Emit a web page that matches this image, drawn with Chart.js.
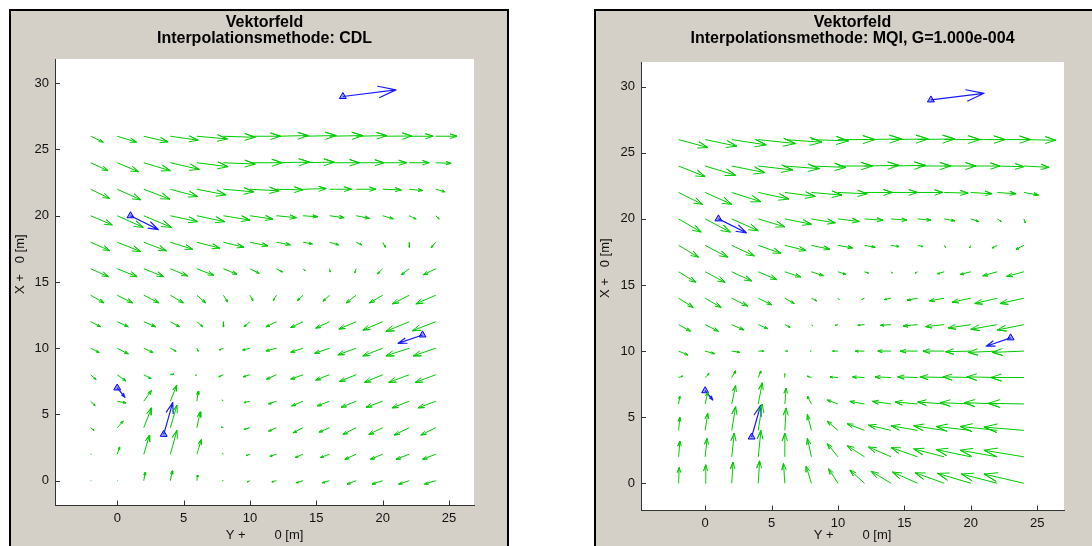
<!DOCTYPE html>
<html>
<head>
<meta charset="utf-8">
<title>Vektorfeld</title>
<script src="https://cdn.jsdelivr.net/npm/chart.js@4.4.0/dist/chart.umd.min.js"></script>
<style>
  html, body { margin: 0; padding: 0; width: 1092px; height: 546px; overflow: hidden; background: #fff; }
  .panel { position: absolute; background: #d4d0c8; border: 2px solid #000; border-bottom: none; }
  #panelL { left: 9px; top: 9px; width: 496px; height: 560px; }
  #panelR { left: 594px; top: 9px; width: 540px; height: 560px; }
  canvas { position: absolute; left: 0; top: 0; }
</style>
</head>
<body>
<div class="panel" id="panelL"><canvas id="chartL" width="496" height="535"></canvas></div>
<div class="panel" id="panelR"><canvas id="chartR" width="496" height="535"></canvas></div>
<script>
// grid of the vector field (columns = Y, rows = X)
const gridX = [-2, 0, 2, 4, 6, 8, 10, 12, 14, 16, 18, 20, 22, 24];
const gridY = [0, 2, 4, 6, 8, 10, 12, 14, 16, 18, 20, 22, 24, 26];

const xTicks = [0, 5, 10, 15, 20, 25];
const yTicks = [0, 5, 10, 15, 20, 25, 30];

// CDL interpolation, one row per gridY value
const cdlU = [
    [0.03, 0.05, 0.1, 0.15, 0.05, -0.08, -0.2, -0.35, -0.5, -0.55, -0.68, -0.8, -0.8, -0.85],
    [0.05, 0.18, 0.43, 0.5, 0.33, -0.08, -0.3, -0.5, -0.6, -0.7, -0.85, -0.93, -1.0, -1.0],
    [0.25, 0.45, 0.58, 0.5, 0.25, -0.15, -0.45, -0.6, -0.75, -0.8, -1.0, -1.05, -1.13, -1.13],
    [0.33, 0.65, 0.58, 0.48, 0.1, -0.1, -0.45, -0.6, -0.85, -0.93, -1.13, -1.25, -1.3, -1.33],
    [0.4, 0.65, 0.55, 0.28, -0.1, -0.35, -0.5, -0.75, -0.93, -1.05, -1.25, -1.38, -1.55, -1.55],
    [0.63, 0.83, 0.7, 0.43, 0.1, -0.3, -0.55, -0.8, -0.93, -1.13, -1.38, -1.5, -1.76, -1.7],
    [0.75, 0.83, 0.88, 0.68, 0.43, 0, -0.45, -0.8, -0.93, -1.05, -1.3, -1.5, -1.76, -1.76],
    [1.0, 1.15, 1.15, 0.98, 0.65, 0.3, 0.22, -0.25, -0.43, -0.5, -0.75, -1.0, -1.26, -1.5],
    [1.33, 1.5, 1.5, 1.3, 1.28, 1.03, 0.7, 0.45, 0.15, 0.05, -0.1, -0.4, -0.6, -0.93],
    [1.43, 1.76, 1.7, 1.68, 1.73, 1.55, 1.36, 1.04, 0.7, 0.68, 0.43, 0.2, 0, -0.35],
    [1.63, 1.96, 2.08, 2.06, 2.1, 2.0, 1.73, 1.5, 1.1, 1.1, 1.0, 0.8, 0.52, 0.25],
    [1.43, 1.78, 1.96, 2.06, 2.2, 2.3, 2.2, 2.0, 1.75, 1.65, 1.5, 1.4, 1.0, 0.7],
    [1.3, 1.6, 2.0, 2.18, 2.35, 2.4, 2.45, 2.5, 2.35, 2.25, 2.1, 1.8, 1.5, 1.15],
    [0.95, 1.45, 1.83, 2.1, 2.3, 2.4, 2.3, 2.4, 2.5, 2.5, 2.3, 2.2, 1.8, 1.6]
];
const cdlV = [
    [0, 0, 0.63, 0.75, 0.43, 0, -0.08, -0.08, -0.15, -0.15, -0.25, -0.25, -0.25, -0.25],
    [0, 0.55, 1.45, 1.8, 1.1, 0.05, -0.1, -0.15, -0.25, -0.25, -0.38, -0.38, -0.38, -0.38],
    [-0.2, 0.5, 1.5, 1.7, 1.2, 0.05, -0.13, -0.25, -0.38, -0.33, -0.5, -0.5, -0.55, -0.55],
    [-0.33, -0.13, 0.8, 1.2, 0.75, 0.1, -0.1, -0.2, -0.35, -0.35, -0.45, -0.45, -0.5, -0.5],
    [-0.37, -0.48, -0.3, 0.05, -0.05, -0.15, -0.15, -0.33, -0.33, -0.4, -0.5, -0.58, -0.58, -0.58],
    [-0.33, -0.43, -0.33, -0.23, -0.23, -0.12, -0.13, -0.2, -0.3, -0.38, -0.5, -0.58, -0.58, -0.58],
    [-0.38, -0.38, -0.38, -0.38, -0.38, -0.4, -0.38, -0.38, -0.43, -0.48, -0.55, -0.63, -0.73, -0.68],
    [-0.58, -0.58, -0.58, -0.58, -0.58, -0.5, -0.4, -0.4, -0.4, -0.45, -0.58, -0.58, -0.65, -0.65],
    [-0.6, -0.6, -0.6, -0.55, -0.5, -0.43, -0.35, -0.25, -0.15, -0.25, -0.3, -0.38, -0.45, -0.45],
    [-0.63, -0.7, -0.65, -0.53, -0.45, -0.38, -0.28, -0.2, -0.13, -0.2, -0.2, -0.38, -0.4, -0.4],
    [-0.7, -0.88, -0.88, -0.45, -0.45, -0.33, -0.25, -0.15, -0.08, -0.15, -0.2, -0.23, -0.25, -0.25],
    [-0.7, -0.8, -0.75, -0.55, -0.43, -0.2, -0.12, -0.05, 0.05, 0, 0, -0.05, -0.1, -0.2],
    [-0.6, -0.68, -0.6, -0.5, -0.3, -0.1, 0, 0.05, 0.05, 0, 0, 0, 0, -0.05],
    [-0.45, -0.45, -0.43, -0.3, -0.2, -0.08, 0, 0.05, 0.05, 0.05, 0.05, 0.02, 0, 0]
];

// MQI interpolation, G=1.000e-004
const mqiU = [
    [0.05, 0.05, 0.1, 0.1, -0.1, -0.4, -0.7, -1.1, -1.5, -1.9, -2.2, -2.5, -2.7, -3.0],
    [0.1, 0.15, 0.2, 0.2, 0, -0.3, -0.8, -1.3, -1.7, -2.0, -2.3, -2.6, -2.8, -3.0],
    [0.1, 0.2, 0.3, 0.3, 0.1, -0.3, -0.8, -1.3, -1.7, -2.0, -2.3, -2.6, -2.8, -3.0],
    [0.1, 0.2, 0.3, 0.3, 0.1, -0.3, -0.8, -1.1, -1.4, -1.7, -2.0, -2.3, -2.5, -2.7],
    [0.3, 0.3, 0.3, 0.2, 0, -0.3, -0.6, -0.9, -1.2, -1.5, -1.8, -2.1, -2.3, -2.5],
    [0.7, 0.7, 0.6, 0.4, 0.2, -0.1, -0.4, -0.7, -1.0, -1.3, -1.6, -1.9, -2.2, -2.4],
    [0.9, 1.0, 0.9, 0.7, 0.4, 0.1, -0.2, -0.5, -0.8, -1.1, -1.4, -1.7, -2.0, -2.0],
    [1.1, 1.2, 1.2, 1.0, 0.7, 0.4, 0.1, -0.2, -0.5, -0.8, -1.1, -1.4, -1.7, -1.8],
    [1.3, 1.5, 1.5, 1.4, 1.2, 0.9, 0.6, 0.3, 0.1, -0.2, -0.5, -0.8, -1.1, -1.3],
    [1.5, 1.7, 1.7, 1.7, 1.6, 1.4, 1.1, 0.8, 0.6, 0.4, 0.1, -0.1, -0.4, -0.6],
    [1.7, 1.9, 2.0, 2.0, 2.0, 1.8, 1.6, 1.4, 1.2, 1.0, 0.8, 0.6, 0.3, 0.1],
    [1.8, 2.0, 2.2, 2.3, 2.3, 2.3, 2.2, 2.1, 2.0, 1.9, 1.8, 1.6, 1.4, 1.1],
    [2.0, 2.3, 2.5, 2.6, 2.6, 2.6, 2.6, 2.6, 2.6, 2.5, 2.4, 2.2, 2.0, 1.9],
    [2.2, 2.4, 2.6, 2.8, 2.8, 2.8, 2.8, 2.8, 2.8, 2.8, 2.7, 2.6, 2.5, 2.4]
];
const mqiV = [
    [1.2, 1.4, 1.6, 1.7, 1.5, 1.3, 1.1, 1.0, 0.9, 0.85, 0.8, 0.75, 0.7, 0.7],
    [1.2, 1.4, 1.8, 2.0, 1.8, 1.4, 1.0, 0.85, 0.75, 0.7, 0.6, 0.55, 0.5, 0.5],
    [1.0, 1.3, 1.8, 2.0, 1.7, 1.2, 0.7, 0.5, 0.4, 0.35, 0.35, 0.3, 0.3, 0.25],
    [0.6, 0.9, 1.4, 1.6, 1.2, 0.6, 0.3, 0.2, 0.2, 0.15, 0.15, 0.1, 0.1, 0.05],
    [0.1, 0.3, 0.5, 0.5, 0.3, 0.1, 0.05, 0.05, 0.05, 0.05, 0.05, 0.05, 0.05, 0],
    [-0.3, -0.2, -0.1, 0, 0, 0, 0, 0, 0, 0, 0, -0.05, -0.1, -0.1],
    [-0.5, -0.5, -0.4, -0.3, -0.2, -0.1, -0.05, -0.05, -0.05, -0.1, -0.15, -0.25, -0.35, -0.4],
    [-0.7, -0.7, -0.6, -0.5, -0.4, -0.2, -0.1, -0.1, -0.1, -0.15, -0.2, -0.3, -0.4, -0.4],
    [-0.8, -0.8, -0.7, -0.6, -0.4, -0.3, -0.2, -0.1, -0.1, -0.1, -0.15, -0.2, -0.3, -0.35],
    [-0.9, -0.9, -0.8, -0.6, -0.4, -0.3, -0.2, -0.15, -0.1, -0.1, -0.15, -0.2, -0.2, -0.3],
    [-1.0, -1.0, -0.9, -0.6, -0.4, -0.3, -0.2, -0.1, -0.1, -0.1, -0.15, -0.2, -0.2, -0.3],
    [-0.9, -0.9, -0.7, -0.5, -0.3, -0.2, -0.1, 0, 0, 0, -0.05, -0.1, -0.1, -0.2],
    [-0.8, -0.7, -0.5, -0.3, -0.2, -0.1, 0, 0.05, 0.05, 0, 0, 0, -0.05, -0.1],
    [-0.6, -0.5, -0.4, -0.3, -0.2, -0.1, 0, 0.05, 0.05, 0.05, 0, 0, 0, -0.05]
];

// measured vectors (blue)
const measX = [17, 1, 23, 0, 3.5];
const measY = [29, 20, 11, 7, 3.5];
const measU = [4.0, 2.1, -1.84, 0.58, 0.68];
const measV = [0.5, -1.05, -0.63, -0.7, 2.4];

const FONT = '"Liberation Sans", Arial, sans-serif';

// quiver style arrow: shaft + head, separated by gaps
function arrowPoints(xs, ys, us, vs) {
    const alpha = 0.33, beta = 0.33;
    let pts = [];
    for (let i = 0; i < xs.length; i++) {
        const x0 = xs[i], y0 = ys[i], u = us[i], v = vs[i];
        const x1 = x0 + u, y1 = y0 + v;
        pts.push({x: x0, y: y0}, {x: x1, y: y1},
            {x: x1 - alpha * (u + beta * v), y: y1 - alpha * (v - beta * u)},
            {x: x1, y: y1},
            {x: x1 - alpha * (u - beta * v), y: y1 - alpha * (v + beta * u)},
            {x: null, y: null});
    }
    return pts;
}

function fieldPoints(U, V) {
    let xs = [], ys = [], us = [], vs = [];
    gridY.forEach((gy, r) => {
        gridX.forEach((gx, c) => {
            xs.push(gx); ys.push(gy); us.push(U[r][c]); vs.push(V[r][c]);
        });
    });
    return arrowPoints(xs, ys, us, vs);
}

const plotBg = {
    id: 'plotBg',
    beforeDraw(chart) {
        const {ctx, chartArea} = chart;
        ctx.save();
        ctx.fillStyle = '#fff';
        ctx.fillRect(chartArea.left, chartArea.top, chartArea.right - chartArea.left, chartArea.bottom - chartArea.top);
        ctx.restore();
    }
};

// MATLAB style ticks pointing into the axes
const innerTicks = {
    id: 'innerTicks',
    afterDraw(chart) {
        const {ctx, chartArea, scales} = chart;
        ctx.save();
        ctx.strokeStyle = '#333';
        ctx.lineWidth = 1;
        ctx.beginPath();
        xTicks.forEach(t => {
            const px = Math.round(scales.x.getPixelForValue(t)) + 0.5;
            ctx.moveTo(px, chartArea.bottom);
            ctx.lineTo(px, chartArea.bottom - 5);
        });
        yTicks.forEach(t => {
            const py = Math.round(scales.y.getPixelForValue(t)) + 0.5;
            ctx.moveTo(chartArea.left, py);
            ctx.lineTo(chartArea.left + 5, py);
        });
        ctx.stroke();
        ctx.restore();
    }
};

function makeChart(canvasId, subtitle, U, V, box) {
    const canvas = document.getElementById(canvasId);
    const measPts = measX.map((x, i) => ({x: x, y: measY[i]}));
    return new Chart(canvas.getContext('2d'), {
        type: 'scatter',
        data: {
            datasets: [{
                data: fieldPoints(U, V),
                showLine: true,
                spanGaps: false,
                borderColor: '#00cc00',
                borderWidth: 1,
                borderJoinStyle: 'round',
                pointRadius: 0
            }, {
                data: arrowPoints(measX, measY, measU, measV),
                showLine: true,
                spanGaps: false,
                borderColor: '#1a1aff',
                borderWidth: 1.2,
                borderJoinStyle: 'round',
                pointRadius: 0
            }, {
                data: measPts,
                showLine: false,
                pointStyle: 'triangle',
                pointRadius: 4,
                borderWidth: 1,
                borderColor: '#0000ff',
                backgroundColor: 'rgba(90,90,255,0.6)'
            }]
        },
        options: {
            responsive: false,
            animation: false,
            events: [],
            layout: {
                padding: {left: 0, top: 0, right: canvas.width - box.right, bottom: canvas.height - box.bottom - box.xAxisH}
            },
            plugins: {
                legend: {display: false},
                tooltip: {enabled: false},
                title: {
                    display: true,
                    fullSize: false,
                    text: ['Vektorfeld', subtitle],
                    color: '#000',
                    font: {family: FONT, size: 16, weight: 'bold', lineHeight: 1},
                    padding: {top: 4, bottom: box.top - 36}
                }
            },
            scales: {
                x: {
                    type: 'linear',
                    min: box.xMin,
                    max: box.xMax,
                    afterFit(s) { s.height = box.xAxisH; },
                    afterBuildTicks(s) { s.ticks = xTicks.map(v => ({value: v})); },
                    grid: {display: true, drawOnChartArea: false, drawTicks: false},
                    border: {display: true, color: '#333', width: 1},
                    ticks: {color: '#111', padding: 5, font: {family: FONT, size: 13}},
                    title: {display: true, text: 'Y +        0 [m]', color: '#111', padding: 0, font: {family: FONT, size: 13}}
                },
                y: {
                    type: 'linear',
                    min: box.yMin,
                    max: box.yMax,
                    afterFit(s) { s.width = box.left; },
                    afterBuildTicks(s) { s.ticks = yTicks.map(v => ({value: v})); },
                    grid: {display: true, drawOnChartArea: false, drawTicks: false},
                    border: {display: true, color: '#333', width: 1},
                    ticks: {color: '#111', padding: 6, font: {family: FONT, size: 13}},
                    title: {display: true, text: '          X +   0 [m]', color: '#111', padding: {top: 2, bottom: 0}, font: {family: FONT, size: 13}}
                }
            }
        },
        plugins: [plotBg, innerTicks]
    });
}

makeChart('chartL', 'Interpolationsmethode: CDL', cdlU, cdlV,
    {left: 44, top: 48, right: 463, bottom: 494.5, xAxisH: 38, xMin: -4.69, xMax: 26.88, yMin: -1.87, yMax: 31.83});
makeChart('chartR', 'Interpolationsmethode: MQI, G=1.000e-004', mqiU, mqiV,
    {left: 45, top: 51, right: 468, bottom: 499.5, xAxisH: 33, xMin: -4.83, xMax: 27.02, yMin: -2.06, yMax: 31.87});
</script>
</body>
</html>
